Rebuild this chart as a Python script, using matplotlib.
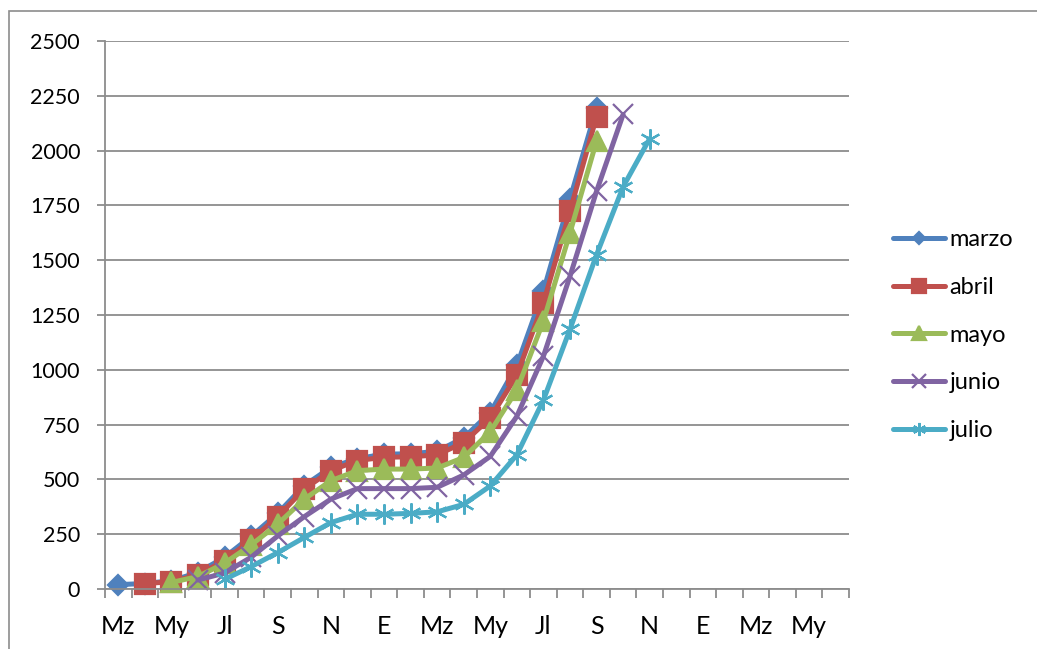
import matplotlib.pyplot as plt
from matplotlib.patches import Rectangle

plt.rcParams['font.family'] = ['Lato', 'DejaVu Sans']

months = ['Mz', 'Ab', 'My', 'Jn', 'Jl', 'Ag', 'S', 'O', 'N', 'D', 'E', 'F'] * 2 + ['Mz', 'Ab', 'My', 'Jn']
tick_labels = [m if i % 2 == 0 else '' for i, m in enumerate(months)]

series_names = ['marzo', 'abril', 'mayo', 'junio', 'julio']
start_month = [0, 1, 2, 3, 4]

marzo = [20, 25, 38, 75, 145, 240, 345, 472, 555, 595, 615, 617, 628, 690, 805, 1020, 1360, 1780, 2195]
abril = [25, 33, 64, 130, 224, 330, 456, 540, 586, 601, 603, 612, 668, 780, 975, 1306, 1724, 2155]
mayo = [30, 57, 118, 201, 296, 410, 494, 540, 547, 547, 552, 600, 718, 908, 1222, 1625, 2044]
junio = [41, 73, 145, 242, 330, 410, 458, 458, 458, 464, 520, 605, 788, 1062, 1427, 1815, 2165]
julio = [44, 102, 166, 235, 303, 341, 341, 345, 352, 386, 470, 612, 862, 1185, 1525, 1835, 2055]
values = [marzo, abril, mayo, junio, julio]

colors = ['#4F81BD', '#C0504D', '#9BBB59', '#8064A2', '#4BACC6']
markers = ['D', 's', '^', 'x', (6, 2, 0)]
msizes = [10, 14.5, 14.5, 14.5, 14.5]

fig = plt.figure(figsize=(10.37, 6.49), dpi=100)
fig.patches.append(Rectangle((9 / 1037, -0.1), 1.2, (649 - 11) / 649 + 0.1,
                             transform=fig.transFigure, fill=False,
                             edgecolor='#8c8c8c', linewidth=1.2))
ax = fig.add_axes([105 / 1037, 60 / 649, (849 - 105) / 1037, (589 - 41) / 649])

grid_c = '#8c8c8c'
for name, start, vals, c, m, ms in zip(series_names, start_month, values, colors, markers, msizes):
    xs = list(range(start, start + len(vals)))
    ax.plot(xs, vals, color=c, linewidth=3.6, marker=m, markersize=ms,
            markerfacecolor=c, markeredgecolor=c, markeredgewidth=1.6,
            solid_joinstyle='round', solid_capstyle='round', label=name,
            clip_on=False)

ax.set_xlim(-0.5, len(months) - 0.5)
ax.set_ylim(0, 2500)
ax.set_yticks(range(0, 2501, 250))
ax.set_xticks(range(len(months)))
ax.set_xticklabels(tick_labels)
ax.set_xticks([i - 0.5 for i in range(len(months) + 1)], minor=True)
ax.yaxis.grid(True, color=grid_c, linewidth=1.3)
ax.set_axisbelow(True)

for s in ['top', 'right']:
    ax.spines[s].set_visible(False)
for s in ['left', 'bottom']:
    ax.spines[s].set_color(grid_c)
    ax.spines[s].set_linewidth(1.3)

ax.tick_params(axis='x', which='major', length=0, pad=19, labelsize=18)
ax.tick_params(axis='x', which='minor', length=6.5, width=1.3, color=grid_c, direction='out')
ax.tick_params(axis='y', length=6, width=1.3, color=grid_c, pad=12, labelsize=15.5)

ax.legend(loc='center left', bbox_to_anchor=(881 / 1037, (649 - 335) / 649),
          bbox_transform=fig.transFigure, frameon=False, fontsize=17,
          handlelength=2.2, handletextpad=0.2, labelspacing=1.13,
          markerscale=0.65, borderpad=0)

fig.savefig('out.png', dpi=100)
